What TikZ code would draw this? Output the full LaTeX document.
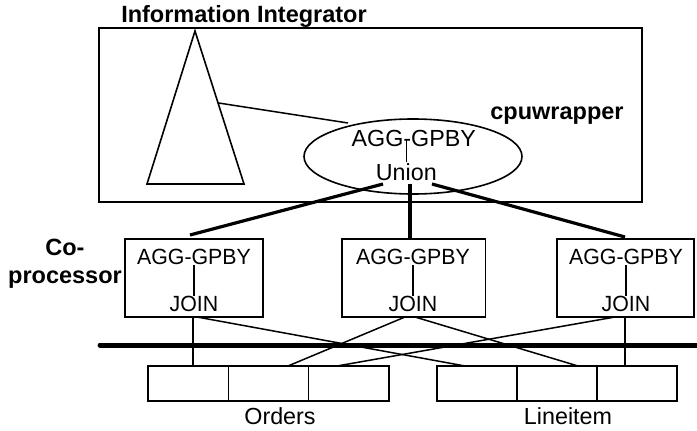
\documentclass[tikz,border=0pt]{standalone}
\usepackage{fontspec}
\setmainfont{Liberation Sans}
\newfontfamily\narrowfont[FakeStretch=0.97]{Liberation Sans}
\usetikzlibrary{shapes.geometric,calc}
\begin{document}
\begin{tikzpicture}[x=1pt,y=-1pt,
  frame/.style={draw,line width=1.6pt,inner sep=0pt,outer sep=0pt},
  cpbox/.style={frame,minimum height=78pt},
  cell/.style={frame,minimum width=80.33pt,minimum height=35pt},
  thinline/.style={line width=1.5pt},
  thickline/.style={line width=3.2pt},
  bus/.style={line width=5pt,line cap=round},
  boldlbl/.style={inner sep=0pt,anchor=base,font=\fontsize{23.5}{28}\selectfont\bfseries},
  lbl/.style={inner sep=0pt,anchor=base,font=\fontsize{23.3}{27}\selectfont},
  boxlbl/.style={inner sep=0pt,anchor=base,font=\narrowfont\fontsize{22}{26}\selectfont}]
\useasboundingbox (0,0) rectangle (697,431);

% Information Integrator frame
\node[frame,minimum width=543pt,minimum height=174pt] (ii) at (370.5,115) {};
\node[boldlbl] (iit) at (244,23) {Information Integrator};
\node[boldlbl] (cpw) at (557,119) {cpuwrapper};

% triangle
\coordinate (tA) at (195,31);
\coordinate (tB) at (147,184);
\coordinate (tC) at (244,184);
\draw[line width=1.6pt] (tA) -- (tB) -- (tC) -- cycle;

% ellipse
\node[draw,ellipse,line width=1.6pt,minimum width=218pt,minimum height=75pt,inner sep=0pt] (el) at (413,156.5) {};
\node[lbl] (eagg) at (413.8,146.7) {AGG-GPBY};
\node[lbl] (eun) at (406.3,180) {Union};
\coordinate (ea1) at (406.7,140);
\coordinate (ea2) at (406.7,162);
\draw[thinline] (ea1) -- (ea2);

\coordinate (tri) at ($(tA)!0.47!(tC)$);
\coordinate (eltip) at (348,123);
\draw[thinline] (tri) -- (eltip);

% co-processor label
\node[boldlbl] (co1) at (65,255.7) {Co-};
\node[boldlbl] (co2) at (65,283.3) {processor};

% co-processor boxes
\node[cpbox,minimum width=138pt] (cp1) at (194,278) {};
\node[cpbox,minimum width=143.6pt] (cp2) at (413.5,278) {};
\node[cpbox,minimum width=137pt] (cp3) at (625.5,278) {};
\foreach \n/\x in {cp1/194,cp2/413,cp3/626}{
  \node[boxlbl] (\n a) at (\x,264.5) {AGG-GPBY};
  \node[boxlbl] (\n j) at (\x,311) {JOIN};
  \draw[line width=1.2pt] (\x,265) -- (\x,296);
}

% thick links from union
\coordinate (u1) at (383,184);
\coordinate (u2) at (410,184);
\coordinate (u3) at (432,184);
\coordinate (c1t) at (190,235);
\coordinate (c2t) at (410,238);
\coordinate (c3t) at (625,237);
\draw[thickline] (u1) -- (c1t);
\draw[thickline] (u2) -- (c2t);
\draw[thickline] (u3) -- (c3t);

% bus
\coordinate (busL) at (100,345);
\coordinate (busR) at (700,345);
\draw[bus] (busL) -- (busR);

% tables
\node[cell] (o1) at (188.17,383.5) {};
\node[cell,anchor=west] (o2) at (o1.east) {};
\node[cell,anchor=west] (o3) at (o2.east) {};
\node[cell,minimum width=80pt] (l1) at (477,383.5) {};
\node[cell,minimum width=80pt,anchor=west] (l2) at (l1.east) {};
\node[cell,minimum width=80pt,anchor=west] (l3) at (l2.east) {};
\node[lbl] (ord) at (280,424) {Orders};
\node[lbl] (lin) at (568,424) {Lineitem};

% thin links to tables
\draw[thinline] (193,317) -- (193,366);
\draw[thinline] (197,317) -- (465,366);
\draw[thinline] (405,317) -- (288,366);
\draw[thinline] (415,317) -- (578,366);
\draw[thinline] (615,317) -- (337,366);
\draw[thinline] (625,317) -- (625,366);
\end{tikzpicture}
\end{document}
